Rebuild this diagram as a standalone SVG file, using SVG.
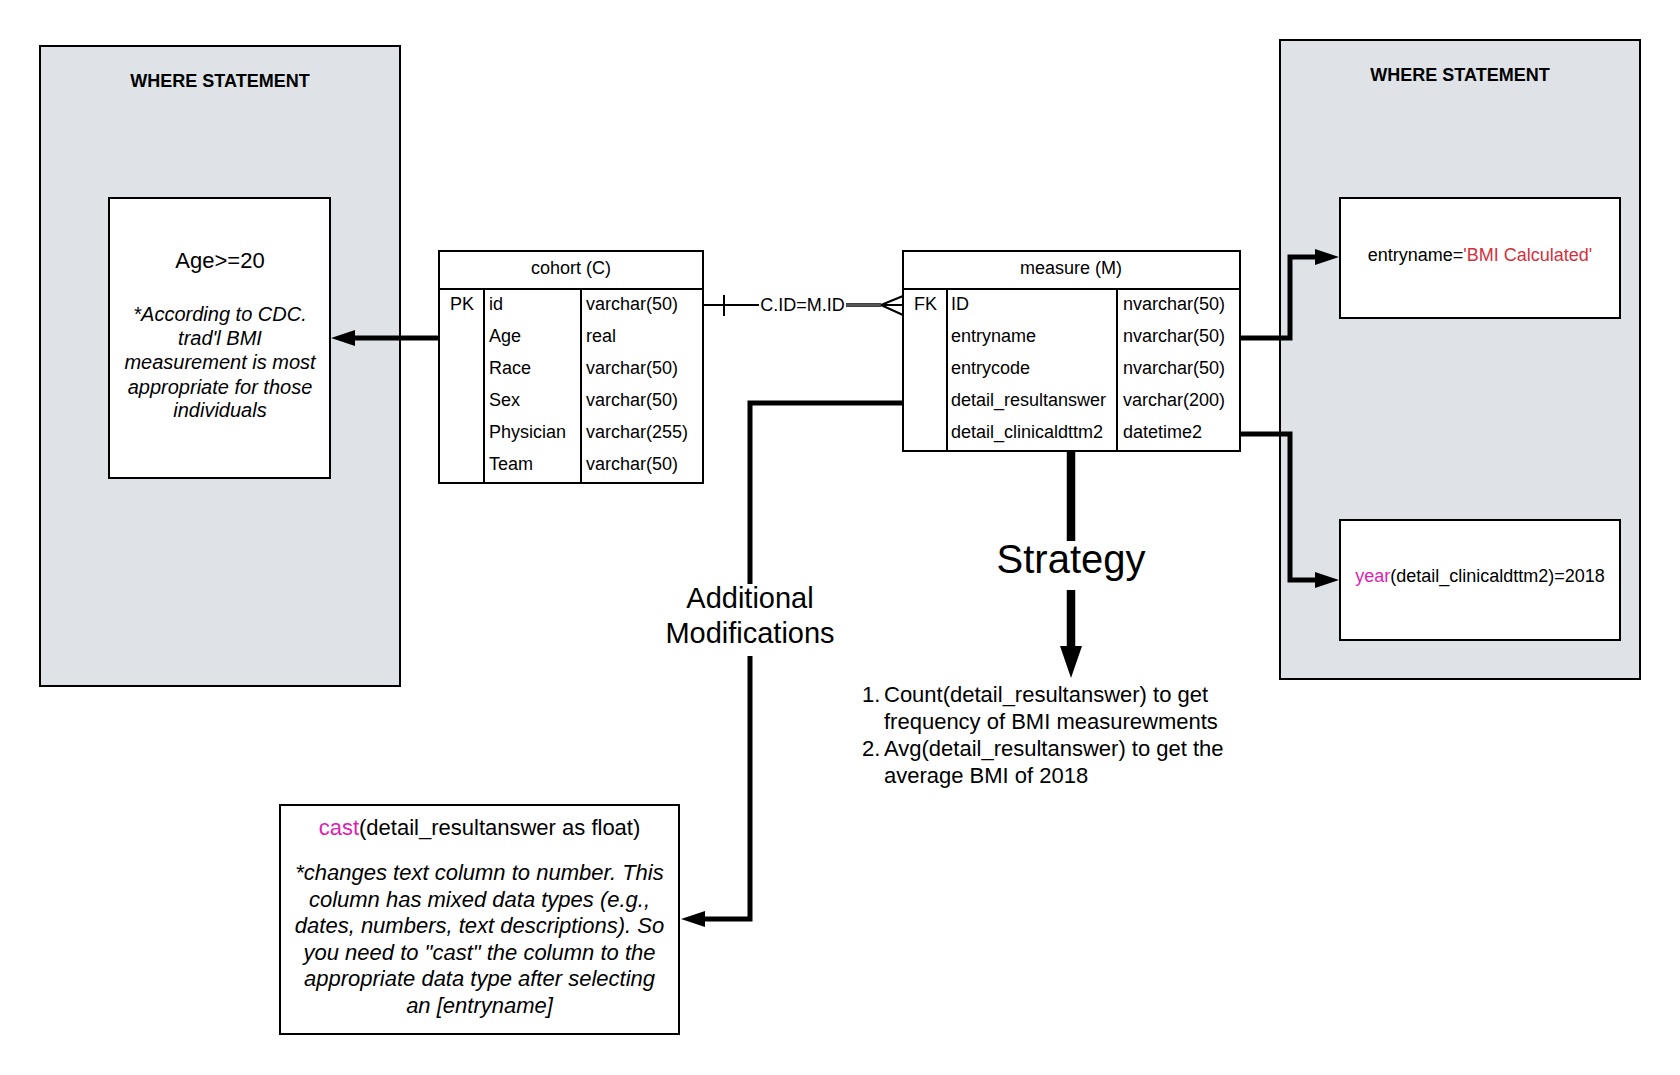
<svg xmlns="http://www.w3.org/2000/svg" width="1680" height="1075" viewBox="0 0 1680 1075">
<style>
text { font-family: "Liberation Sans", Arial, sans-serif; fill: #000; }
.where { fill: #dfe3e8; stroke: #000; stroke-width: 2; }
.box { fill: #fff; stroke: #000; stroke-width: 2; }
.tbl { fill: #fff; stroke: #000; stroke-width: 2; }
.div { stroke: #000; stroke-width: 2; fill: none; }
.title { font-size: 18px; font-weight: bold; text-anchor: middle; }
.cell { font-size: 18px; }
.hdr { font-size: 18px; text-anchor: middle; }
.mid { text-anchor: middle; }
.note { font-size: 20px; font-style: italic; text-anchor: middle; }
.note2 { font-size: 22px; font-style: italic; text-anchor: middle; }
.thick { stroke: #000; stroke-width: 5; fill: none; }
.thin { stroke: #000; stroke-width: 2; fill: none; }
.red { fill: #d4303c; }
.mag { fill: #e01fb0; }
</style>
<defs>
<marker id="arr" markerUnits="userSpaceOnUse" markerWidth="24" markerHeight="16" refX="12" refY="8" orient="auto">
<path d="M0,0 L24,8 L0,16 z" fill="#000"/>
</marker>
<marker id="arrL" markerUnits="userSpaceOnUse" markerWidth="32" markerHeight="22" refX="16" refY="11" orient="auto">
<path d="M0,0 L32,11 L0,22 z" fill="#000"/>
</marker>
</defs>

<g id="where-left">
<rect class="where" x="40" y="46" width="360" height="640"/>
<text class="title" x="220" y="87">WHERE STATEMENT</text>
</g>

<g id="age-box">
<rect class="box" x="109" y="198" width="221" height="280"/>
<text class="mid" x="220" y="268" font-size="22">Age&gt;=20</text>
<text class="note" x="220" y="321">*According to CDC.</text>
<text class="note" x="220" y="345">trad'l BMI</text>
<text class="note" x="220" y="369">measurement is most</text>
<text class="note" x="220" y="394">appropriate for those</text>
<text class="note" x="220" y="417">individuals</text>
</g>

<g id="where-right">
<rect class="where" x="1280" y="40" width="360" height="639"/>
<text class="title" x="1460" y="81">WHERE STATEMENT</text>
</g>

<g id="entryname-box">
<rect class="box" x="1340" y="198" width="280" height="120"/>
<text class="mid" x="1480" y="261" font-size="18">entryname=<tspan class="red">'BMI Calculated'</tspan></text>
</g>

<g id="year-box">
<rect class="box" x="1340" y="520" width="280" height="120"/>
<text class="mid" x="1480" y="582" font-size="18"><tspan class="mag">year</tspan>(detail_clinicaldttm2)=2018</text>
</g>

<g id="cohort-table">
<rect class="tbl" x="439" y="251" width="264" height="232"/>
<line class="div" x1="439" y1="289" x2="703" y2="289"/>
<line class="div" x1="484" y1="289" x2="484" y2="483"/>
<line class="div" x1="581" y1="289" x2="581" y2="483"/>
<text class="hdr" x="571" y="274">cohort (C)</text>
<text class="cell" x="450" y="310">PK</text>
<text class="cell" x="489" y="310">id</text>
<text class="cell" x="586" y="310">varchar(50)</text>
<text class="cell" x="489" y="342">Age</text>
<text class="cell" x="586" y="342">real</text>
<text class="cell" x="489" y="374">Race</text>
<text class="cell" x="586" y="374">varchar(50)</text>
<text class="cell" x="489" y="406">Sex</text>
<text class="cell" x="586" y="406">varchar(50)</text>
<text class="cell" x="489" y="438">Physician</text>
<text class="cell" x="586" y="438">varchar(255)</text>
<text class="cell" x="489" y="470">Team</text>
<text class="cell" x="586" y="470">varchar(50)</text>
</g>

<g id="measure-table">
<rect class="tbl" x="903" y="251" width="337" height="200"/>
<line class="div" x1="903" y1="289" x2="1240" y2="289"/>
<line class="div" x1="947" y1="289" x2="947" y2="451"/>
<line class="div" x1="1117" y1="289" x2="1117" y2="451"/>
<text class="hdr" x="1071" y="274">measure (M)</text>
<text class="cell" x="914" y="310">FK</text>
<text class="cell" x="951" y="310">ID</text>
<text class="cell" x="1123" y="310">nvarchar(50)</text>
<text class="cell" x="951" y="342">entryname</text>
<text class="cell" x="1123" y="342">nvarchar(50)</text>
<text class="cell" x="951" y="374">entrycode</text>
<text class="cell" x="1123" y="374">nvarchar(50)</text>
<text class="cell" x="951" y="406">detail_resultanswer</text>
<text class="cell" x="1123" y="406">varchar(200)</text>
<text class="cell" x="951" y="438">detail_clinicaldttm2</text>
<text class="cell" x="1123" y="438">datetime2</text>
</g>

<g id="cast-box">
<rect class="box" x="280" y="805" width="399" height="229"/>
<text class="mid" x="479.5" y="835" font-size="22"><tspan class="mag">cast</tspan>(detail_resultanswer as float)</text>
<text class="note2" x="479.5" y="880">*changes text column to number. This</text>
<text class="note2" x="479.5" y="906.5">column has mixed data types (e.g.,</text>
<text class="note2" x="479.5" y="933">dates, numbers, text descriptions). So</text>
<text class="note2" x="479.5" y="959.5">you need to "cast" the column to the</text>
<text class="note2" x="479.5" y="986">appropriate data type after selecting</text>
<text class="note2" x="479.5" y="1013">an [entryname]</text>
</g>

<g id="strategy-list">
<text x="862" y="702" font-size="22">1.</text>
<text x="884" y="702" font-size="22">Count(detail_resultanswer) to get</text>
<text x="884" y="729" font-size="22">frequency of BMI measurewments</text>
<text x="862" y="756" font-size="22">2.</text>
<text x="884" y="756" font-size="22">Avg(detail_resultanswer) to get the</text>
<text x="884" y="783" font-size="22">average BMI of 2018</text>
</g>

<g id="connectors">
<path class="thick" d="M439,338 H343" marker-end="url(#arr)"/>
<path class="thick" d="M1240,338 H1290 V257 H1327" marker-end="url(#arr)"/>
<path class="thick" d="M1240,434 H1290 V580 H1327" marker-end="url(#arr)"/>
<path class="thick" d="M903,403 H750 V584"/>
<path class="thick" d="M750,656 V919 H693" marker-end="url(#arr)"/>
<text class="mid" x="750" y="608" font-size="29">Additional</text>
<text class="mid" x="750" y="643" font-size="29">Modifications</text>
<path d="M1071,451 V541" stroke="#000" stroke-width="8.5" fill="none"/>
<path d="M1071,590 V662" stroke="#000" stroke-width="8.5" fill="none" marker-end="url(#arrL)"/>
<text class="mid" x="1071" y="573" font-size="40">Strategy</text>
<path class="thin" d="M703,305 H759"/>
<path class="thin" d="M724,295 V316"/>
<text class="mid" x="802.5" y="311" font-size="18">C.ID=M.ID</text>
<path d="M846,305 H881" stroke="#000" stroke-width="3.5" fill="none"/>
<path d="M846,305 H881" stroke="#aaa" stroke-width="1" fill="none"/>
<path class="thin" d="M881,305 H903 M881,305 L903,296 M881,305 L903,315"/>
</g>
</svg>
